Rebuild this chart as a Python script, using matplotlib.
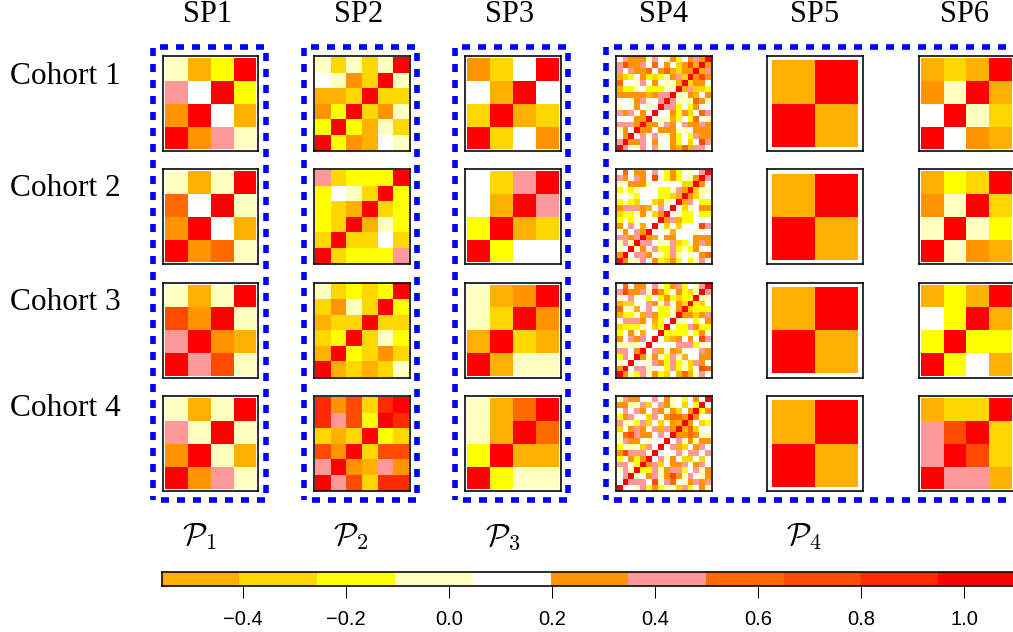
import matplotlib
matplotlib.use("Agg")
import matplotlib.pyplot as plt
from matplotlib.colors import ListedColormap, BoundaryNorm
import numpy as np

plt.rcParams['lines.scale_dashes'] = False
plt.rcParams['mathtext.fontset'] = 'cm'

W, H, DPI = 1013, 632, 100
PX = 72 / DPI

COHORTS = ["Cohort 1", "Cohort 2", "Cohort 3", "Cohort 4"]
SPS = ["SP1", "SP2", "SP3", "SP4", "SP5", "SP6"]
PARTS = [r"$\mathcal{P}_1$", r"$\mathcal{P}_2$", r"$\mathcal{P}_3$", r"$\mathcal{P}_4$"]

COLORS = ["#FFB000", "#FFD700", "#FFFF00", "#FFFFC0", "#FFFFFF", "#FF9400",
          "#FF9999", "#FF6A00", "#FF4A00", "#FF2A00", "#FF0000"]
BREAKS = [-0.557, -0.407, -0.257, -0.105, 0.047, 0.198, 0.348, 0.5, 0.65, 0.8, 0.95, 1.1]
TICKS = [-0.4, -0.2, 0.0, 0.2, 0.4, 0.6, 0.8, 1.0]
TICKLABELS = ["\u22120.4", "\u22120.2", "0.0", "0.2", "0.4", "0.6", "0.8", "1.0"]
CODES = "abcdefghijk"

# each letter is one colour-bar class (a = lowest, k = highest); rows from top
SP1 = [["dack", "gekc", "fkea", "kfgd"],
       ["dadk", "hekd", "fkea", "kfhd"],
       ["dadk", "ifkd", "gkfa", "kgid"],
       ["dadk", "gdkd", "fkda", "kfgd"]]
SP2 = [["dbdbdk", "edfbkd", "aabkbb", "fckbfd", "ckcadb", "kcfaed"],
       ["gbccck", "cedbkc", "cbakbc", "cbkadc", "bkbbeb", "kbcccg"],
       ["dbcbck", "bfdbkc", "abbkbb", "bckbdc", "akcbfb", "kababd"],
       ["jfibjk", "jgickj", "babkcb", "ifkbii", "gkfagf", "kgibjj"]]
SP3 = [["fbek", "eake", "bkab", "kbef"],
       ["ebgk", "eakg", "ckab", "kcee"],
       ["dafk", "dbkf", "akba", "kadd"],
       ["dahk", "dakh", "ckaa", "kcdd"]]
SP5 = [["ak", "ka"], ["ak", "ka"], ["ak", "ka"], ["ak", "ka"]]
SP6 = [["abak", "fdka", "ekdb", "kefa"],
       ["acbk", "fdkb", "dkdc", "kdfa"],
       ["acak", "ecka", "ckcc", "kcea"],
       ["abbk", "gikb", "gkib", "kgga"]]
# SP4 is symmetric about its red diagonal: only the part up to the diagonal is listed
SP4_HALF = [
    ["egfffdgedfcefgfk", "giffgehefebfiak", "gegffhefhabffk",
     "abcefcbcdfgbk", "heedgefeddak", "accdecccddk", "fffffafggk", "eedfgdegk",
     "deefedek", "gfgefek", "eeeffk", "gggfk", "dfek", "efk", "gk", "k"],
    ["eheffegecfcedegk", "gfegfeiecfcddfk", "defffdeeeeebbk",
     "cdcdeeeccdgfk", "eedceeeccbak", "cdcbeebadek", "fgggfaegek", "bccdfebfk",
     "cdcdeeek", "fegeaek", "efegfk", "ggfgk", "dgdk", "dek", "fk", "k"],
    ["eheffegdcfgcedgk", "giffgdifcefcbdk", "degeececfcbcck",
     "abbeegfdgefbk", "hddaegeccdfk", "accdagfccdk", "egggfeacek", "bcccdebck",
     "cefdaeek", "fegfgek", "ddddek", "ggefk", "cgek", "dek", "fk", "k"],
    ["dgffeegefdecefek", "ffddgbegfdebeck", "egegfegfdfbefk", "cfgeebgefhhfk",
     "gddcgbebdfak", "befgfegagfk", "dhigffegek", "dgffedeek",
     "cdddbgek", "figggek", "cefcfk", "ggeck", "dgdk", "egk", "ek", "k"],
]

MIDS = [(BREAKS[i] + BREAKS[i + 1]) / 2 for i in range(len(COLORS))]


def to_values(rows):
    return np.array([[MIDS[CODES.index(ch)] for ch in r] for r in rows])


def sym_values(half):
    n = len(half)
    out = np.zeros((n, n))
    for r, row in enumerate(half):
        for c, ch in enumerate(row):
            v = MIDS[CODES.index(ch)]
            out[r, c] = v
            out[n - 1 - c, n - 1 - r] = v
    return out


PANELS = [[to_values(SP1[i]), to_values(SP2[i]), to_values(SP3[i]), sym_values(SP4_HALF[i]),
           to_values(SP5[i]), to_values(SP6[i])] for i in range(4)]

cmap = ListedColormap(COLORS)
norm = BoundaryNorm(BREAKS, cmap.N)

fig = plt.figure(figsize=(W / DPI, H / DPI), dpi=DPI, facecolor="white")


def axes_px(x0, y0, x1, y1, **kw):
    return fig.add_axes([x0 / W, 1 - y1 / H, (x1 - x0) / W, (y1 - y0) / H], **kw)


BOX_X = [163.2, 314.3, 465.3, 616.3, 767.3, 918.7]
BOX_Y = [56.2, 169.2, 282.5, 396.2]
BOX_SIZE = 95.2
INNER = {2: 4.3, 4: 2.0, 6: 0.8, 16: 0.3}

for i, y0 in enumerate(BOX_Y):
    for j, x0 in enumerate(BOX_X):
        m = PANELS[i][j]
        n = m.shape[0]
        ax = axes_px(x0, y0, x0 + BOX_SIZE, y0 + BOX_SIZE)
        ax.pcolormesh(np.arange(n + 1), np.arange(n + 1), m, cmap=cmap, norm=norm,
                      edgecolors="none", antialiased=False)
        pad = INNER[n] / (BOX_SIZE - 2 * INNER[n]) * n
        ax.set_xlim(-pad, n + pad)
        ax.set_ylim(n + pad, -pad)
        ax.set_xticks([])
        ax.set_yticks([])
        for s in ax.spines.values():
            s.set_linewidth(1.6 * PX)
            s.set_color("black")

# overlay in pixel coordinates for the labels and dashed groups
ov = fig.add_axes([0, 0, 1, 1], zorder=5)
ov.set_xlim(0, W)
ov.set_ylim(H, 0)
ov.axis("off")
ov.patch.set_alpha(0)

SERIF = "Liberation Serif"
for name, xc in zip(SPS, [208, 359, 510, 664, 815, 965]):
    ov.text(xc, 15, name, family=SERIF, fontsize=22, ha="center", va="center")
for name, yc in zip(COHORTS, [76, 189, 302, 408]):
    ov.text(9.5, yc, name, family=SERIF, fontsize=22.6, ha="left", va="center")
for name, xc in zip(PARTS, [200, 351, 503, 804]):
    ov.text(xc, 537, name, fontsize=23, ha="center", va="center")

dash = (8 * PX, (8 * PX, 8 * PX))
for xl, xr in [(152.7, 265.7), (303.7, 417), (454.7, 568), (606, 1046)]:
    ov.plot([xl, xr, xr, xl, xl], [500, 500, 47, 47, 500], color="#0000FF", lw=5.6 * PX,
            linestyle=dash, dash_capstyle="butt", dash_joinstyle="miter", clip_on=False)

# colour bar
cax = axes_px(162, 571.5, 1015.5, 585.5)
bins = np.array(BREAKS)
cax.pcolormesh(bins, [0, 1], np.array([MIDS]), cmap=cmap, norm=norm, edgecolors="none",
               antialiased=False)
cax.set_xlim(BREAKS[0], BREAKS[-1])
cax.set_ylim(0, 1)
cax.set_yticks([])
cax.set_xticks(TICKS)
cax.set_xticklabels(TICKLABELS, family="Liberation Sans", fontsize=14.5)
cax.tick_params(axis="x", length=12 * PX, width=1.0 * PX, pad=12.5 * PX, color="black")
for s in cax.spines.values():
    s.set_linewidth(1.6 * PX)

fig.savefig("out.png", dpi=DPI, facecolor="white")
